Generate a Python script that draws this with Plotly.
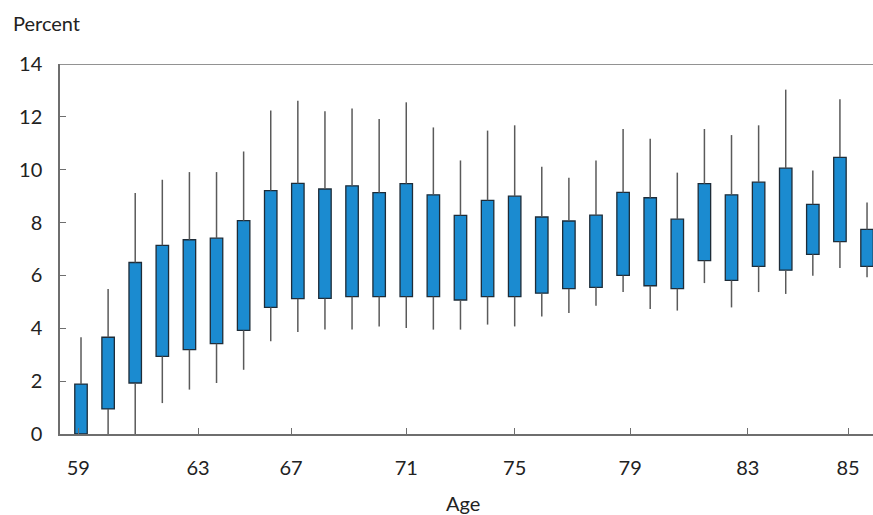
import plotly.graph_objects as go

# Box positions (index along the age axis) and values (percent)
box_pos = list(range(30))
whisker_high = [3.66, 5.49, 9.12, 9.62, 9.91, 9.91, 10.69, 12.24, 12.61, 12.21,
                12.32, 11.92, 12.55, 11.60, 10.35, 11.48, 11.68, 10.11, 9.70, 10.35,
                11.54, 11.17, 9.89, 11.54, 11.31, 11.68, 13.03, 9.97, 12.67, 8.76]
box_high = [1.89, 3.66, 6.49, 7.14, 7.35, 7.41, 8.07, 9.21, 9.48, 9.27,
            9.39, 9.13, 9.47, 9.05, 8.27, 8.84, 9.00, 8.21, 8.06, 8.28,
            9.14, 8.94, 8.13, 9.47, 9.05, 9.53, 10.06, 8.69, 10.47, 7.74]
box_low = [0.00, 0.95, 1.93, 2.94, 3.19, 3.42, 3.92, 4.79, 5.12, 5.13,
           5.20, 5.20, 5.20, 5.20, 5.07, 5.20, 5.20, 5.33, 5.50, 5.55,
           6.00, 5.61, 5.50, 6.56, 5.81, 6.34, 6.20, 6.80, 7.28, 6.34]
whisker_low = [0.00, 0.00, 0.00, 1.17, 1.68, 1.93, 2.43, 3.51, 3.86, 3.95,
               3.95, 4.07, 4.01, 3.95, 3.95, 4.14, 4.07, 4.45, 4.58, 4.85,
               5.37, 4.73, 4.67, 5.71, 4.79, 5.37, 5.30, 5.99, 6.28, 5.93]

x_tick_pos = [-0.1, 4.32, 7.75, 12.0, 16.0, 20.26, 24.6, 28.3]
x_tick_text = ["59", "63", "67", "71", "75", "79", "83", "85"]
y_ticks = [0, 2, 4, 6, 8, 10, 12, 14]

BLUE = "#1b8bd0"
OUTLINE = "#1e2c38"
WHISKER = "#5a5a5a"
AXIS = "#6e6e6e"
TEXT = "#222222"
FONT = "Lato"

fig = go.Figure()

# whiskers (error bars without caps)
fig.add_trace(go.Scatter(
    x=box_pos, y=box_high, mode="markers", marker=dict(size=0.1, opacity=0),
    error_y=dict(type="data", symmetric=False,
                 array=[h - b for h, b in zip(whisker_high, box_high)],
                 arrayminus=[0] * len(box_pos),
                 width=0, thickness=1.5, color=WHISKER),
    hoverinfo="skip", showlegend=False))
fig.add_trace(go.Scatter(
    x=box_pos, y=box_low, mode="markers", marker=dict(size=0.1, opacity=0),
    error_y=dict(type="data", symmetric=False,
                 array=[0] * len(box_pos),
                 arrayminus=[b - l for b, l in zip(box_low, whisker_low)],
                 width=0, thickness=1.5, color=WHISKER),
    hoverinfo="skip", showlegend=False))

# boxes
fig.add_trace(go.Bar(
    x=box_pos, y=[h - l for h, l in zip(box_high, box_low)], base=box_low,
    width=0.46, marker=dict(color=BLUE, line=dict(color=OUTLINE, width=1.3)),
    showlegend=False))

fig.update_layout(
    width=873, height=515,
    margin=dict(l=60, r=0, t=64, b=81),
    paper_bgcolor="white", plot_bgcolor="white",
    font=dict(family=FONT, size=20, color=TEXT),
    showlegend=False,
    xaxis=dict(range=[-0.775, 29.22], tickvals=x_tick_pos, ticktext=x_tick_text,
               showgrid=False, zeroline=False, showline=True, linecolor=AXIS,
               linewidth=1.5, ticks="inside", ticklen=6, tickwidth=1.2,
               tickcolor=AXIS, ticklabelstandoff=15,
               tickfont=dict(family=FONT, size=20, color=TEXT)),
    yaxis=dict(range=[0, 14], tickvals=y_ticks, showgrid=False, zeroline=False,
               showline=True, linecolor=AXIS, linewidth=1.5, ticks="inside",
               ticklen=6, tickwidth=1.2, tickcolor=AXIS, ticklabelstandoff=12,
               tickfont=dict(family=FONT, size=20, color=TEXT)),
    shapes=[dict(type="line", xref="paper", yref="y", x0=0, x1=1, y0=14, y1=14,
                 line=dict(color=AXIS, width=1.5))],
    annotations=[
        dict(text="Percent", xref="paper", yref="paper", x=-49 / 813, y=1 + 41 / 370,
             xanchor="left", yanchor="middle", showarrow=False,
             font=dict(family=FONT, size=20, color=TEXT)),
        dict(text="Age", xref="paper", yref="paper", x=403 / 813, y=-69 / 370,
             xanchor="center", yanchor="middle", showarrow=False,
             font=dict(family=FONT, size=20, color=TEXT)),
    ],
)

fig.write_html("out.html")
